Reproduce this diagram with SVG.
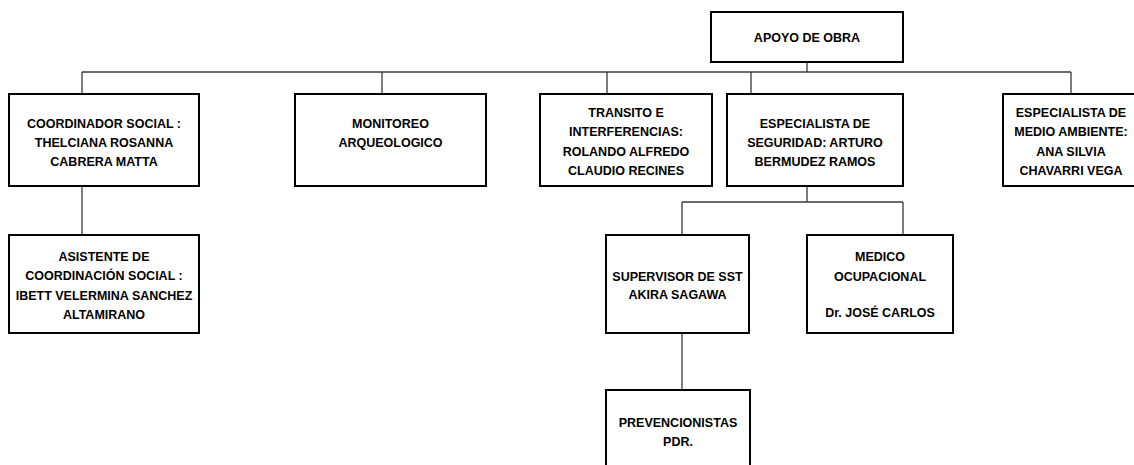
<svg xmlns="http://www.w3.org/2000/svg" width="1134" height="465" viewBox="0 0 1134 465">
<style>
.box{fill:#fff;stroke:#000;stroke-width:2}
.t{font-family:"Liberation Sans",Arial,sans-serif;font-weight:bold;font-size:12.5px;fill:#000;text-anchor:middle}
.c{fill:none;stroke:#3a3a3a;stroke-width:1.3}
</style>
<rect width="1134" height="465" fill="#fff"/>
<g id="connectors">
<path class="c" d="M807 62V72M82 72H1071M82 72V94M382 72V94M607 72V94M751 72V94M1071 72V94"/>
<path class="c" d="M82 186V235"/>
<path class="c" d="M807 186V202M682 202H903M682 202V235M903 202V235"/>
<path class="c" d="M682 333V390"/>
</g>
<g id="apoyo">
<rect class="box" x="711" y="12" width="192" height="50"/>
<text class="t" x="807" y="42">APOYO DE OBRA</text>
</g>
<g id="coordinador">
<rect class="box" x="9" y="94" width="190" height="92"/>
<text class="t" x="104" y="127.5">COORDINADOR SOCIAL :</text>
<text class="t" x="104" y="146.5">THELCIANA ROSANNA</text>
<text class="t" x="104" y="165.5">CABRERA MATTA</text>
</g>
<g id="monitoreo">
<rect class="box" x="295" y="94" width="191" height="92"/>
<text class="t" x="390.5" y="127.5">MONITOREO</text>
<text class="t" x="390.5" y="146.5">ARQUEOLOGICO</text>
</g>
<g id="transito">
<rect class="box" x="540" y="94" width="172" height="92"/>
<text class="t" x="626" y="116.5">TRANSITO E</text>
<text class="t" x="626" y="136">INTERFERENCIAS:</text>
<text class="t" x="626" y="155.5">ROLANDO ALFREDO</text>
<text class="t" x="626" y="175">CLAUDIO RECINES</text>
</g>
<g id="seguridad">
<rect class="box" x="727" y="94" width="176" height="92"/>
<text class="t" x="815" y="127.5">ESPECIALISTA DE</text>
<text class="t" x="815" y="146.5">SEGURIDAD: ARTURO</text>
<text class="t" x="815" y="165.5">BERMUDEZ RAMOS</text>
</g>
<g id="ambiente">
<rect class="box" x="1003" y="94" width="140" height="92"/>
<text class="t" x="1071" y="116.5">ESPECIALISTA  DE</text>
<text class="t" x="1071" y="136">MEDIO AMBIENTE:</text>
<text class="t" x="1071" y="155.5">ANA SILVIA</text>
<text class="t" x="1071" y="175">CHAVARRI VEGA</text>
</g>
<g id="asistente">
<rect class="box" x="9" y="235" width="190" height="98"/>
<text class="t" x="104" y="260.5">ASISTENTE DE</text>
<text class="t" x="104" y="280">COORDINACIÓN SOCIAL :</text>
<text class="t" x="104" y="299.5">IBETT VELERMINA SANCHEZ</text>
<text class="t" x="104" y="319">ALTAMIRANO</text>
</g>
<g id="supervisor">
<rect class="box" x="606" y="235" width="143" height="98"/>
<text class="t" x="677.5" y="281">SUPERVISOR DE SST</text>
<text class="t" x="677.5" y="299">AKIRA SAGAWA</text>
</g>
<g id="medico">
<rect class="box" x="807" y="235" width="146" height="98"/>
<text class="t" x="880" y="261">MEDICO</text>
<text class="t" x="880" y="280.5">OCUPACIONAL</text>
<text class="t" x="880" y="317">Dr. JOSÉ CARLOS</text>
</g>
<g id="prevencionistas">
<rect class="box" x="606" y="390" width="144" height="90"/>
<text class="t" x="678" y="426.5">PREVENCIONISTAS</text>
<text class="t" x="678" y="445.5">PDR.</text>
</g>
</svg>
